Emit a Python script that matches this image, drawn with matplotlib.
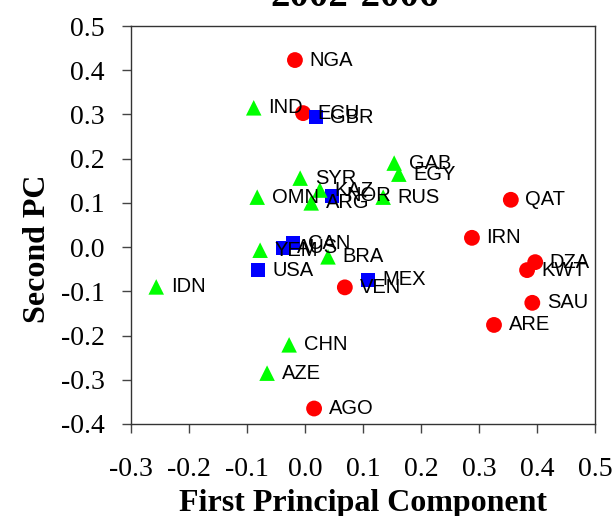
import matplotlib
matplotlib.use("Agg")
import matplotlib.pyplot as plt
from matplotlib.ticker import FormatStrFormatter

plt.rcParams['axes.unicode_minus'] = False

# OPEC members (red circles)
opec_names = ['NGA', 'ECU', 'QAT', 'IRN', 'DZA', 'KWT', 'SAU', 'ARE', 'VEN', 'AGO']
opec_x = [-0.017, -0.003, 0.355, 0.288, 0.397, 0.383, 0.392, 0.326, 0.069, 0.016]
opec_y = [0.423, 0.303, 0.107, 0.021, -0.034, -0.052, -0.126, -0.176, -0.091, -0.365]

# developed producers (blue squares)
dev_names = ['GBR', 'NOR', 'CAN', 'AUS', 'USA', 'MEX']
dev_x = [0.019, 0.047, -0.020, -0.038, -0.081, 0.109]
dev_y = [0.294, 0.116, 0.009, -0.002, -0.052, -0.074]

# other producers (green triangles)
oth_names = ['IND', 'SYR', 'KAZ', 'ARG', 'RUS', 'OMN', 'GAB', 'EGY',
             'YEM', 'BRA', 'IDN', 'CHN', 'AZE']
oth_x = [-0.088, -0.008, 0.026, 0.011, 0.135, -0.082, 0.154, 0.162,
         -0.077, 0.040, -0.256, -0.027, -0.065]
oth_y = [0.315, 0.156, 0.129, 0.100, 0.113, 0.113, 0.190, 0.165,
         -0.007, -0.022, -0.090, -0.221, -0.285]

fig = plt.figure(figsize=(6.13, 5.16), dpi=100)
ax = fig.add_axes([0.2132, 0.1783, 0.7574, 0.7713])

groups = [
    (opec_names, opec_x, opec_y, 'o', '#ff0000', 130),
    (dev_names, dev_x, dev_y, 's', '#0000ff', 105),
    (oth_names, oth_x, oth_y, '^', '#00ff00', 125),
]
for names, xs, ys, mk, col, s in groups:
    ax.scatter(xs, ys, marker=mk, s=s, color=col, edgecolors='none', zorder=3)
    for n, x, y in zip(names, xs, ys):
        ax.annotate(n, (x, y), xytext=(10.5, 0), textcoords='offset points',
                    va='center', ha='left', fontsize=14.5,
                    family='Liberation Sans', zorder=4)

ax.set_xlim(-0.3, 0.5)
ax.set_ylim(-0.4, 0.5)
ax.set_xticks([-0.3, -0.2, -0.1, 0.0, 0.1, 0.2, 0.3, 0.4, 0.5])
ax.set_yticks([-0.4, -0.3, -0.2, -0.1, 0.0, 0.1, 0.2, 0.3, 0.4, 0.5])
ax.xaxis.set_major_formatter(FormatStrFormatter('%.1f'))
ax.yaxis.set_major_formatter(FormatStrFormatter('%.1f'))

for sp in ax.spines.values():
    sp.set_color('#333333')
    sp.set_linewidth(1.0)
ax.tick_params(axis='both', direction='out', length=6.5, width=1.0,
               color='#444444', labelsize=20, labelfontfamily='Liberation Serif')
ax.tick_params(axis='x', pad=17)
ax.tick_params(axis='y', pad=12)

ax.set_xlabel('First Principal Component', fontsize=23, fontweight='bold',
              family='Liberation Serif')
ax.xaxis.set_label_coords(0.5, -0.163)
ax.set_ylabel('Second PC', fontsize=23, fontweight='bold',
              family='Liberation Serif')
ax.yaxis.set_label_coords(-0.17, 0.44)

fig.text(355 / 613, 1 - 6 / 516, '2002-2006', ha='center', va='baseline',
         fontsize=28, fontweight='bold', family='Liberation Serif')

fig.savefig('out.png', dpi=100)
